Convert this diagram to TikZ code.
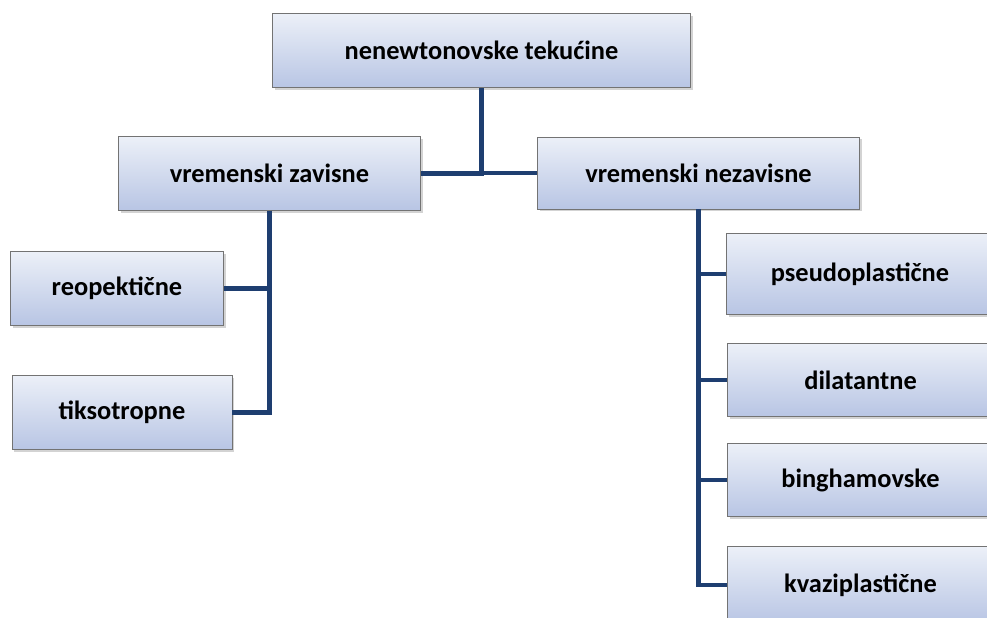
\documentclass[tikz,border=0pt]{standalone}
\usepackage{fontspec}
\setmainfont{Carlito}
\usetikzlibrary{shadows}

\definecolor{boxtop}{RGB}{236,240,248}
\definecolor{boxbot}{RGB}{184,197,228}
\definecolor{linkblue}{RGB}{30,62,112}

\begin{document}
\begin{tikzpicture}[x=0.75pt, y=-0.75pt,
    catbox/.style={rectangle, draw=black!55, line width=0.6pt,
        top color=boxtop, bottom color=boxbot,
        drop shadow={opacity=0.35, shadow xshift=1.8pt, shadow yshift=-1.8pt},
        font=\bfseries\fontsize{19.8}{22}\selectfont, inner sep=0pt},
    link/.style={draw=linkblue, line width=3.6pt}]

    %% Background
    \useasboundingbox (0,0) rectangle (987,617);
    \clip (0,0) rectangle (987,617);

    \node[catbox, minimum width=314pt, minimum height=56pt] (top) at (481.5,50.5) {nenewtonovske tekućine};

    \node[catbox, minimum width=227pt, minimum height=55pt] (vz) at (269.5,173.5) {vremenski zavisne};
    \node[catbox, minimum width=242pt, minimum height=54pt] (vn) at (698.5,173) {vremenski nezavisne};

    \node[catbox, minimum width=160pt, minimum height=55pt] (reo) at (117,288.5) {reopektične};
    \node[catbox, minimum width=165pt, minimum height=56pt] (tik) at (122,412.5) {tiksotropne};

    \node[catbox, minimum width=200pt, minimum height=61pt] (pse) at (860,274) {pseudoplastične};
    \node[catbox, minimum width=199pt, minimum height=55pt] (dil) at (860.5,380) {dilatantne};
    \node[catbox, minimum width=199pt, minimum height=55pt] (bin) at (860.5,480) {binghamovske};
    \node[catbox, minimum width=199pt, minimum height=58pt] (kva) at (860.5,585) {kvaziplastične};

    %% Links
    \draw[link] (top.south) |- (vz.east);
    \draw[link] (top.south) |- (vn.west);

    \draw[link] (vz.south) |- (reo.east);
    \draw[link] (vz.south) |- (tik.east);

    \foreach \n in {pse,dil,bin,kva}
    {
    \draw[link] (vn.south) |- (\n.west);
    }

\end{tikzpicture}
\end{document}
